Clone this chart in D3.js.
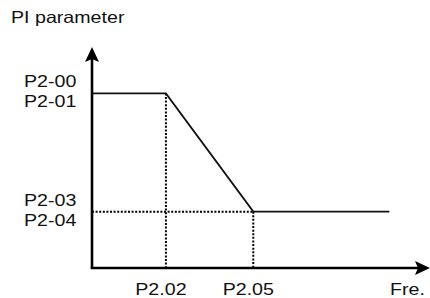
<!DOCTYPE html>
<html>
<head>
<meta charset="utf-8">
<script src="https://d3js.org/d3.v7.min.js"></script>
<style>
  body { margin: 0; background: #fff; }
  text { font-family: "Liberation Sans", Arial, sans-serif; font-size: 16.5px; fill: #111; }
</style>
</head>
<body>
<div id="chart"></div>
<script>
// frequency break points (axis units) and their labels
var freqPoints = [0, 22, 48, 88.5];
var paramValues = [79, 79, 25.5, 25.5];
var xTickValues = [22, 48];
var xTickLabels = ["P2.02", "P2.05"];
var yLevels = [79, 25.5];
var yLevelLabels = [["P2-00", "P2-01"], ["P2-03", "P2-04"]];
var xTitle = "Fre.";
var yTitle = "PI parameter";

var width = 430, height = 298;
var stretch = 1.19;

var svg = d3.select("#chart").append("svg")
  .attr("width", width)
  .attr("height", height);

var x = d3.scaleLinear().domain([0, 100]).range([92, 428]);
var y = d3.scaleLinear().domain([0, 100]).range([268, 47]);

function label(xp, yp, txt, anchor) {
  svg.append("text")
    .attr("transform", "translate(" + xp + "," + yp + ") scale(" + stretch + ",1)")
    .attr("text-anchor", anchor || "start")
    .text(txt);
}

// dotted guides
var guides = svg.append("g")
  .attr("fill", "none")
  .attr("stroke", "#000")
  .attr("stroke-width", 2)
  .attr("stroke-dasharray", "2,1.6");
guides.append("line")
  .attr("x1", x(freqPoints[1])).attr("x2", x(freqPoints[1]))
  .attr("y1", y(paramValues[1])).attr("y2", y(0));
guides.append("line")
  .attr("x1", x(0)).attr("x2", x(freqPoints[2]))
  .attr("y1", y(paramValues[2])).attr("y2", y(paramValues[2]));
guides.append("line")
  .attr("x1", x(freqPoints[2])).attr("x2", x(freqPoints[2]))
  .attr("y1", y(paramValues[2])).attr("y2", y(0));

// curve
var line = d3.line()
  .x(function(d, i) { return x(d); })
  .y(function(d, i) { return y(paramValues[i]); });
svg.append("path")
  .datum(freqPoints)
  .attr("d", line)
  .attr("fill", "none")
  .attr("stroke", "#111")
  .attr("stroke-width", 1.8);

// axes with arrow heads
svg.append("line")
  .attr("x1", x(0)).attr("y1", y(0))
  .attr("x2", x(0)).attr("y2", y(100) + 8)
  .attr("stroke", "#000").attr("stroke-width", 2.6);
svg.append("line")
  .attr("x1", x(0) - 1.3).attr("y1", y(0))
  .attr("x2", x(100) - 8).attr("y2", y(0))
  .attr("stroke", "#000").attr("stroke-width", 2.6);

var ax = x(0), ay = y(100);
svg.append("path")
  .attr("d", "M" + ax + "," + ay + " L" + (ax + 7) + "," + (ay + 15) +
    " L" + ax + "," + (ay + 12) + " L" + (ax - 7) + "," + (ay + 15) + "Z")
  .attr("fill", "#000");
var bx = x(100), by = y(0);
svg.append("path")
  .attr("d", "M" + (bx + 2) + "," + by + " L" + (bx - 13) + "," + (by - 7) +
    " L" + (bx - 10) + "," + by + " L" + (bx - 13) + "," + (by + 7) + "Z")
  .attr("fill", "#000");

// titles
label(11, 22.5, yTitle);
label(390, 294.5, xTitle);

// y level labels
yLevels.forEach(function(v, i) {
  label(24, y(v) - 6, yLevelLabels[i][0]);
  label(24, y(v) + 14, yLevelLabels[i][1]);
});

// x tick labels
xTickValues.forEach(function(v, i) {
  label(x(v) - 5, 294.5, xTickLabels[i], "middle");
});
</script>
</body>
</html>
